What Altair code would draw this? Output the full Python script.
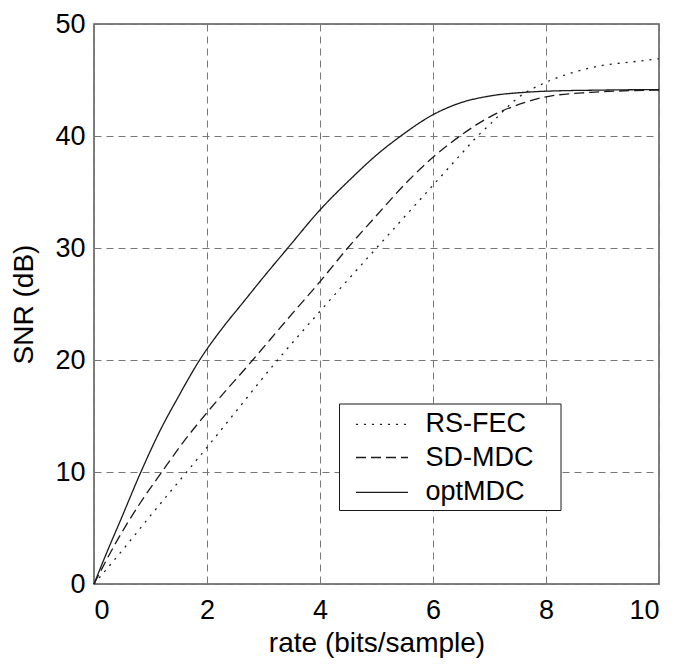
import altair as alt
import pandas as pd

# ---- data ----
series_names = ["RS-FEC", "SD-MDC", "optMDC"]

rate_rs = [0, 0.5, 1.0, 1.64, 2.0, 2.4, 3.25, 4.0, 5.0, 6.0, 6.5, 6.81, 7.0, 7.5, 8.0, 8.5, 9.0, 9.5, 10.0]
snr_rs = [0, 3.0, 6.1, 10.0, 12.2, 14.7, 20.0, 24.35, 30.0, 35.6, 38.4, 40.1, 41.0, 43.4, 44.8, 45.7, 46.3, 46.6, 46.9]

rate_sd = [0, 0.4, 0.8, 1.2, 1.6, 2.0, 2.81, 3.4, 4.0, 4.49, 5.0, 5.57, 6.0, 6.45, 7.04, 7.63, 8.0, 8.8, 9.5, 10.0]
snr_sd = [0, 3.8, 7.1, 10.0, 12.8, 15.3, 20.0, 23.5, 27.0, 30.0, 32.9, 36.05, 38.1, 39.9, 41.8, 43.0, 43.5, 43.9, 44.05, 44.1]

rate_opt = [0, 0.25, 0.47, 0.83, 1.17, 1.48, 1.87, 2.25, 2.64, 3.0, 3.43, 4.0, 4.55, 5.0, 5.43, 6.0, 6.45, 7.04, 7.63, 8.0, 9.0, 10.0]
snr_opt = [0, 3.1, 5.7, 10.0, 13.7, 16.6, 20.0, 22.7, 25.15, 27.4, 30.0, 33.4, 36.2, 38.3, 40.0, 41.9, 42.9, 43.6, 43.9, 44.0, 44.1, 44.15]

x_ticks = [0, 2, 4, 6, 8, 10]
y_ticks = [0, 10, 20, 30, 40, 50]

FONT = "Liberation Sans"
INK = "#1a1a1a"

frames = []
for name, xs, ys in [("RS-FEC", rate_rs, snr_rs), ("SD-MDC", rate_sd, snr_sd), ("optMDC", rate_opt, snr_opt)]:
    frames.append(pd.DataFrame({"series": name, "rate": xs, "snr": ys, "order": range(len(xs))}))
df = pd.concat(frames, ignore_index=True)

dash_scale = alt.Scale(domain=series_names, range=[[2, 6], [10, 5], [1, 0]])

W, H = 565, 560

lines = alt.Chart(df).mark_line(color=INK, strokeWidth=1.3, interpolate="monotone").encode(
    x=alt.X("rate:Q", scale=alt.Scale(domain=[0, 10], nice=False),
            axis=alt.Axis(values=x_ticks, title="rate (bits/sample)", titlePadding=6,
                          labelPadding=13)),
    y=alt.Y("snr:Q", scale=alt.Scale(domain=[0, 50], nice=False),
            axis=alt.Axis(values=y_ticks, title="SNR (dB)", titlePadding=16,
                          labelPadding=9)),
    strokeDash=alt.StrokeDash("series:N", scale=dash_scale, legend=None),
    detail="series:N",
    order="order:Q",
)

# ---- legend (drawn by hand inside the plot) ----
legend_df = pd.DataFrame({"series": series_names, "ly": [400.3, 433.5, 468.3]})

box = alt.Chart(pd.DataFrame({"k": [0]})).mark_rect(
    fill="white", stroke=INK, strokeWidth=1
).encode(
    x=alt.value(245.5), x2=alt.value(467), y=alt.value(380), y2=alt.value(486.5)
)

legend_lines = alt.Chart(legend_df).mark_rule(color=INK, strokeWidth=1.3).encode(
    x=alt.value(262), x2=alt.value(314),
    y=alt.Y("ly:Q", scale=None),
    strokeDash=alt.StrokeDash("series:N", scale=dash_scale, legend=None),
)

legend_text = alt.Chart(legend_df).mark_text(
    align="left", baseline="middle", fontSize=27, font=FONT, color="black"
).encode(
    x=alt.value(331.5),
    y=alt.Y("ly:Q", scale=None),
    text="series:N",
)

chart = alt.layer(lines, box, legend_lines, legend_text).properties(
    width=W, height=H,
    padding={"left": 86, "top": 16, "right": 15, "bottom": 74},
    autosize=alt.AutoSizeParams(type="none"),
).configure_view(
    stroke="#555", strokeWidth=1.5
).configure_axis(
    domain=False, ticks=False,
    grid=True, gridDash=[7, 5], gridColor="#777", gridWidth=1, gridOpacity=1,
    labelFont=FONT, labelFontSize=27, labelColor="black",
    titleFont=FONT, titleFontSize=28, titleColor="black", titleFontWeight="normal",
)

chart.save("out.html", embed_options={"renderer": "svg", "actions": False})
